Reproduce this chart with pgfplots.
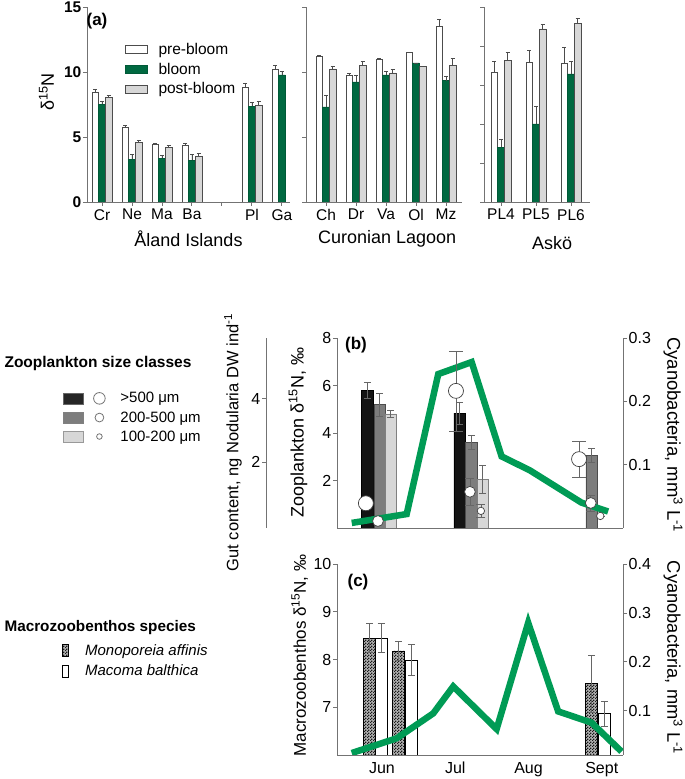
\documentclass[border=0pt]{standalone}
\usepackage{pgfplots}
\pgfplotsset{compat=1.18}
\usepackage{fontspec}
\setmainfont{Liberation Sans}
\usetikzlibrary{patterns}

\definecolor{lineGreen}{RGB}{0,155,85}
\definecolor{barGreen}{RGB}{0,105,65}
\definecolor{axisgray}{RGB}{115,115,115}
\definecolor{lightbar}{RGB}{215,215,215}
\definecolor{darkbar}{RGB}{125,125,125}
\newcommand{\fs}[1]{\fontsize{#1pt}{#1pt}\selectfont}

\pgfdeclarepatternformonly{finecheck}{\pgfpointorigin}{\pgfpoint{2.6pt}{2.6pt}}{\pgfpoint{2.6pt}{2.6pt}}%
{\pgfpathrectangle{\pgfpointorigin}{\pgfpoint{1.3pt}{1.3pt}}\pgfpathrectangle{\pgfpoint{1.3pt}{1.3pt}}{\pgfpoint{1.3pt}{1.3pt}}\pgfusepath{fill}}

\pgfplotsset{
  base/.style={scale only axis, enlargelimits=false,
    axis line style={draw=axisgray, line width=0.9pt},
    tick style={draw=axisgray, line width=0.9pt},
    major tick length=4pt, tick align=outside,
    /pgf/number format/assume math mode=true,
    tick label style={font=\fs{16}, inner sep=1.5pt},
    xticklabel style={inner sep=3pt},
    label style={font=\fs{17}}},
  preA/.style={ybar, bar width=6.7pt, bar shift=0pt, draw=black!70, fill=white, line width=0.7pt},
  bloomA/.style={ybar, bar width=6.7pt, bar shift=0pt, draw=barGreen!85!black, fill=barGreen, line width=0.5pt},
  postA/.style={ybar, bar width=6.7pt, bar shift=0pt, draw=black!70, fill=lightbar, line width=0.7pt},
  errA/.style={error bars/y dir=plus, error bars/y explicit,
    error bars/error bar style={draw=black!70, line width=0.7pt},
    error bars/error mark options={rotate=90, draw=black!70, mark size=2pt, line width=0.7pt}},
  errB/.style={error bars/y dir=both, error bars/y explicit,
    error bars/error bar style={draw=black!60, line width=0.7pt},
    error bars/error mark options={rotate=90, draw=black!60, mark size=#1, line width=0.7pt}},
}

\begin{document}
\begin{tikzpicture}
\useasboundingbox (0pt,0pt) rectangle (685pt,779pt);

% ---------------- Panel (a): Aland Islands
\begin{axis}[base, at={(87pt,577pt)}, anchor=south west, width=203pt, height=195pt,
  axis lines*=left, xmin=0.5, xmax=7.27, ymin=0, ymax=15,
  ytick={0,5,10,15}, yticklabel style={font=\bfseries\fs{15.5}},
  xtick={1,2,3,4,5,6,7}, xticklabels={Cr,Ne,Ma,Ba,{},Pl,Ga},
  xticklabel style={font=\fs{15.5}},
  xlabel={Åland Islands}, xlabel style={at={(axis description cs:0.5,-0.19)}, anchor=center, font=\fs{18}},
  ylabel={δ\textsuperscript{15}N}, ylabel style={at={(axis description cs:-0.2,0.564)}, anchor=center, font=\fs{18}},
  legend cell align=left,
  legend style={at={(axis description cs:0.187,0.815)}, anchor=north west, draw=none, fill=none,
    inner sep=0pt, nodes={inner sep=0pt}, row sep=7pt, font=\fs{15.5}}]
\addplot[preA, errA, forget plot] table[x=x,y=y,y error=e] {
x y e
0.777 8.45 0.23
1.777 5.73 0.13
2.777 4.43 0.10
3.777 4.38 0.12
5.777 8.80 0.29
6.777 10.19 0.33
};
\addplot[bloomA, errA, forget plot] table[x=x,y=y,y error=e] {
x y e
1 7.50 0.28
2 3.30 0.38
3 3.35 0.23
4 3.20 0.43
6 7.37 0.28
7 9.78 0.28
};
\addplot[postA, errA, forget plot] table[x=x,y=y,y error=e] {
x y e
1.223 8.04 0.15
2.223 4.58 0.15
3.223 4.20 0.18
4.223 3.51 0.20
6.223 7.45 0.30
};
\addlegendimage{legend image code/.code={\draw[draw=black!70, fill=white, line width=0.7pt] (0pt,-4pt) rectangle (22pt,4pt); \path[draw=none,fill=none] (0pt,0pt) -- (33pt,0pt);}}
\addlegendentry{pre-bloom}
\addlegendimage{legend image code/.code={\draw[draw=barGreen!85!black, fill=barGreen, line width=0.5pt] (0pt,-4pt) rectangle (22pt,4pt); \path[draw=none,fill=none] (0pt,0pt) -- (33pt,0pt);}}
\addlegendentry{bloom}
\addlegendimage{legend image code/.code={\draw[draw=black!70, fill=lightbar, line width=0.7pt] (0pt,-4pt) rectangle (22pt,4pt); \path[draw=none,fill=none] (0pt,0pt) -- (33pt,0pt);}}
\addlegendentry{post-bloom}
\end{axis}

% ---------------- Curonian Lagoon
\begin{axis}[base, at={(306pt,577pt)}, anchor=south west, width=156pt, height=195pt,
  axis lines*=left, xmin=0.333, xmax=5.533, ymin=0, ymax=15,
  ytick={0,5,10,15}, yticklabels={},
  xtick={1,2,3,4,5}, xticklabels={Ch,Dr,Va,Ol,Mz}, xticklabel style={font=\fs{15.5}},
  xlabel={Curonian Lagoon}, xlabel style={at={(axis description cs:0.52,-0.19)}, anchor=center, font=\fs{18}}]
\addplot[preA, errA] table[x=x,y=y,y error=e] {
x y e
0.777 11.21 0.08
1.777 9.78 0.12
2.777 10.98 0.05
3.777 11.54 0
4.777 13.49 0.59
};
\addplot[bloomA, errA] table[x=x,y=y,y error=e] {
x y e
1 7.32 0.87
2 9.24 0.54
3 9.78 0.28
4 10.70 0
5 9.34 0.31
};
\addplot[postA, errA] table[x=x,y=y,y error=e] {
x y e
1.223 10.24 0.20
2.223 10.49 0.36
3.223 9.93 0.28
4.223 10.44 0
5.223 10.52 0.51
};
\end{axis}

% ---------------- Asko
\begin{axis}[base, at={(484pt,577pt)}, anchor=south west, width=106pt, height=195pt,
  axis lines*=left, xmin=0.514, xmax=3.543, ymin=0, ymax=15,
  ytick={0,3,6,9,12,15}, yticklabels={},
  xtick={1,2,3}, xticklabels={PL4,PL5,PL6}, xticklabel style={font=\fs{15.5}},
  xlabel={Askö}, xlabel style={at={(axis description cs:0.642,-0.21)}, anchor=center, font=\fs{18}}]
\addplot[preA, errA] table[x=x,y=y,y error=e] {
x y e
0.809 9.98 0.87
1.809 10.72 0.95
2.809 10.65 1.23
};
\addplot[bloomA, errA] table[x=x,y=y,y error=e] {
x y e
1 4.20 0.64
2 6.01 1.34
3 9.85 0.98
};
\addplot[postA, errA] table[x=x,y=y,y error=e] {
x y e
1.191 10.88 0.66
2.191 13.31 0.38
3.191 13.72 0.43
};
\end{axis}

\node[font=\bfseries\fs{17}] at (97pt,758pt) {(a)};

% ---------------- Panel (b): gut content axis
\begin{axis}[base, at={(266pt,251pt)}, anchor=south west, width=40pt, height=190pt,
  axis y line*=left, axis x line=none, xmin=0, xmax=1, ymin=-0.079, ymax=5.906,
  ytick={2,4,6}, yticklabel style={font=\fs{16}},
  ylabel={Gut content, ng Nodularia DW ind\textsuperscript{-1}},
  ylabel style={at={(axis description cs:-0.825,0.45)}, anchor=center, font=\fs{16.5}}]
\end{axis}

% zooplankton bars
\begin{axis}[base, at={(337pt,251pt)}, anchor=south west, width=286pt, height=190pt,
  axis lines*=left, xmin=0.386, xmax=4.29, ymin=0, ymax=8,
  ytick={2,4,6,8}, xtick=\empty,
  ylabel={Zooplankton δ\textsuperscript{15}N, ‰},
  ylabel style={at={(axis description cs:-0.136,0.503)}, anchor=center, font=\fs{18}},
  legend cell align=left,
  legend style={at={(axis description cs:-0.958,0.716)}, anchor=north west, draw=none, fill=none,
    inner sep=0pt, nodes={inner sep=0pt}, row sep=7pt, font=\fs{15}}]
\addplot[ybar, bar width=11.3pt, bar shift=0pt, fill=black!92, draw=black, line width=0.5pt, errB=3.5pt, forget plot] table[x=x,y=y,y error=e] {
x y e
0.80 5.80 0.33
2.06 4.84 0.47
};
\addplot[ybar, bar width=11.3pt, bar shift=0pt, fill=darkbar, draw=black!70, line width=0.5pt, errB=3.5pt, forget plot] table[x=x,y=y,y error=e] {
x y e
0.966 5.19 0.47
2.22 3.61 0.29
3.86 3.05 0.30
};
\addplot[ybar, bar width=11.3pt, bar shift=0pt, fill=lightbar, draw=black!50, line width=0.5pt, errB=3.5pt, forget plot] table[x=x,y=y,y error=e] {
x y e
1.12 4.81 0.13
2.375 2.04 0.60
};
\addlegendimage{legend image code/.code={\draw[fill=black!85, draw=black!60] (0pt,-5.5pt) rectangle (20pt,5.5pt); \draw[draw=black!55, fill=white, line width=0.8pt] (36pt,0pt) circle (5.8pt); \path[draw=none,fill=none] (0pt,0pt) -- (57pt,0pt);}}
\addlegendentry{>500 μm}
\addlegendimage{legend image code/.code={\draw[fill=darkbar, draw=black!50] (0pt,-5.5pt) rectangle (20pt,5.5pt); \draw[draw=black!55, fill=white, line width=0.8pt] (36pt,0pt) circle (4.4pt); \path[draw=none,fill=none] (0pt,0pt) -- (57pt,0pt);}}
\addlegendentry{200-500 μm}
\addlegendimage{legend image code/.code={\draw[fill=lightbar, draw=black!40] (0pt,-5.5pt) rectangle (20pt,5.5pt); \draw[draw=black!55, fill=white, line width=0.8pt] (36pt,0pt) circle (2.8pt); \path[draw=none,fill=none] (0pt,0pt) -- (57pt,0pt);}}
\addlegendentry{100-200 μm}
\end{axis}

% cyanobacteria (b)
\begin{axis}[base, at={(337pt,251pt)}, anchor=south west, width=286pt, height=190pt,
  axis y line*=right, axis x line=none, xmin=0.386, xmax=4.29, ymin=0, ymax=0.3,
  ytick={0.1,0.2,0.3},
  ylabel={Cyanobacteria, mm\textsuperscript{3} L\textsuperscript{-1}},
  ylabel style={at={(axis description cs:1.175,0.49)}, anchor=center, rotate=180, font=\fs{18.5}}]
\addplot[lineGreen, line width=6.5pt] table {
0.587 0.008
1.337 0.022
1.768 0.243
2.224 0.262
2.633 0.113
3.019 0.091
3.724 0.040
4.087 0.026
};
\end{axis}

% gut content circles
\begin{axis}[base, at={(337pt,251pt)}, anchor=south west, width=286pt, height=190pt,
  hide axis, xmin=0.386, xmax=4.29, ymin=-0.079, ymax=5.906]
\addplot[only marks, mark=*, mark size=7.5pt, mark options={fill=white, draw=black!75, line width=0.7pt}, errB=7pt] table[x=x,y=y,y error=e] {
x y e
0.78 0.70 0
2.01 4.24 1.26
3.69 2.09 0.56
};
\addplot[only marks, mark=*, mark size=5.4pt, mark options={fill=white, draw=black!75, line width=0.7pt}, errB=4.5pt] table[x=x,y=y,y error=e] {
x y e
0.945 0.14 0
2.20 1.06 0.44
3.85 0.71 0.25
};
\addplot[only marks, mark=*, mark size=3.7pt, mark options={fill=white, draw=black!75, line width=0.7pt}, errB=4.5pt] table[x=x,y=y,y error=e] {
x y e
2.35 0.46 0.20
3.98 0.30 0
};
\end{axis}

\node[font=\bfseries\fs{17}] at (356pt,434pt) {(b)};

% ---------------- Panel (c)
\begin{axis}[base, at={(337pt,24pt)}, anchor=south west, width=286pt, height=191pt,
  axis lines*=left, xmin=0.386, xmax=4.29, ymin=6, ymax=10,
  ytick={7,8,9,10}, xtick={1,2,3,4}, xticklabels={Jun,Jul,Aug,Sept},
  xtick style={draw=none},
  ylabel={Macrozoobenthos δ\textsuperscript{15}N, ‰},
  ylabel style={at={(axis description cs:-0.13,0.52)}, anchor=center, font=\fs{17}},
  legend cell align=left,
  legend style={at={(axis description cs:-0.9626,0.581)}, anchor=north west, draw=none, fill=none,
    inner sep=0pt, nodes={inner sep=0pt}, row sep=8pt, font=\fs{15}}]
\addplot[ybar, bar width=12pt, bar shift=0pt, fill=black!30, postaction={pattern=finecheck, pattern color=black!90}, draw=black, line width=0.8pt, errB=3.5pt, forget plot] table[x=x,y=y,y error=e] {
x y e
0.83 8.45 0.30
1.23 8.18 0.19
3.86 7.49 0.59
};
\addplot[ybar, bar width=12pt, bar shift=0pt, fill=white, draw=black, line width=0.8pt, errB=3.5pt, forget plot] table[x=x,y=y,y error=e] {
x y e
0.99 8.45 0.30
1.40 7.99 0.32
4.035 6.87 0.26
};
\addlegendimage{legend image code/.code={\draw[fill=black!30, postaction={pattern=finecheck, pattern color=black!90}, draw=black] (0pt,-6pt) rectangle (6.6pt,6pt); \path[draw=none,fill=none] (0pt,0pt) -- (23pt,0pt);}}
\addlegendentry{\textit{Monoporeia affinis}}
\addlegendimage{legend image code/.code={\draw[fill=white, draw=black] (0pt,-6pt) rectangle (6.6pt,6pt); \path[draw=none,fill=none] (0pt,0pt) -- (23pt,0pt);}}
\addlegendentry{\textit{Macoma balthica}}
\end{axis}

\begin{axis}[base, at={(337pt,24pt)}, anchor=south west, width=286pt, height=191pt,
  axis y line*=right, axis x line=none, xmin=0.386, xmax=4.29, ymin=0.01, ymax=0.4,
  ytick={0.1,0.2,0.3,0.4},
  ylabel={Cyanobacteria, mm\textsuperscript{3} L\textsuperscript{-1}},
  ylabel style={at={(axis description cs:1.175,0.51)}, anchor=center, rotate=180, font=\fs{18.3}}]
\addplot[lineGreen, line width=6.5pt] table {
0.587 0.014
1.20 0.044
1.70 0.095
1.973 0.150
2.565 0.063
2.996 0.280
3.405 0.099
3.861 0.076
4.27 0.017
};
\end{axis}

\node[font=\bfseries\fs{17}] at (358pt,197pt) {(c)};

% legend titles
\node[anchor=west, font=\bfseries\fs{15.5}] at (1pt,416pt) {Zooplankton size classes};
\node[anchor=west, font=\bfseries\fs{15.3}] at (1pt,151pt) {Macrozoobenthos species};
\end{tikzpicture}
\end{document}
